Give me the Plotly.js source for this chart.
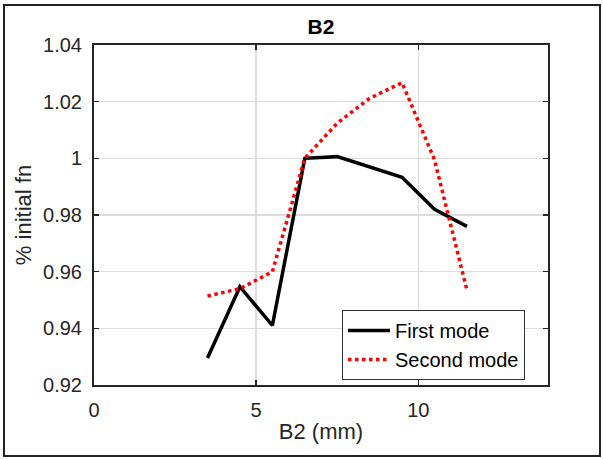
<!DOCTYPE html>
<html>
<head>
<meta charset="utf-8">
<script src="https://cdn.plot.ly/plotly-3.0.1.min.js"></script>
<style>
html,body{margin:0;padding:0;background:#fff;}
#wrap{position:relative;width:603px;height:459px;}
#chart{position:absolute;left:0;top:0;width:603px;height:459px;}
#frame{position:absolute;left:3px;top:4px;width:594px;height:449px;border:2px solid #222;pointer-events:none;}
</style>
</head>
<body>
<div id="wrap"><div id="chart"></div><div id="frame"></div></div>
<script>
const xFirst = [3.5, 4.5, 5.5, 6.5, 7.5, 8.5, 9.5, 10.5, 11.5];
const yFirst = [0.9295, 0.9547, 0.9410, 1.0000, 1.0006, 0.9970, 0.9933, 0.9820, 0.9760];
const xSecond = [3.5, 4.5, 5.5, 6.5, 7.5, 8.5, 9.5, 10.5, 11.5];
const ySecond = [0.9514, 0.9540, 0.9600, 1.0000, 1.0124, 1.0212, 1.0267, 0.9995, 0.9535];
const yTickVals = [0.92, 0.94, 0.96, 0.98, 1.00, 1.02, 1.04];
const yTickText = ['0.92', '0.94', '0.96', '0.98', '1', '1.02', '1.04'];
const xTickVals = [0, 5, 10];

const fam = 'Liberation Sans, Arial, sans-serif';
const tickFont = {family: fam, size: 20, color: '#262626'};
const labelFont = {family: fam, size: 22, color: '#262626'};

const traces = [
  {x: xFirst, y: yFirst, name: 'First mode', mode: 'lines', type: 'scatter',
   line: {color: '#000000', width: 3.5}},
  {x: xSecond, y: ySecond, name: 'Second mode', mode: 'lines', type: 'scatter',
   line: {color: '#ff0000', width: 3.5, dash: 'dot'}}
];

const axCommon = {
  showline: true, linecolor: '#262626', linewidth: 2, mirror: 'ticks',
  ticks: 'inside', ticklen: 5, tickwidth: 1.5, tickcolor: '#262626',
  showgrid: true, gridcolor: '#dcdcdc', gridwidth: 1.5, zeroline: false,
  tickfont: tickFont
};

const layout = {
  width: 603, height: 459,
  margin: {l: 94, r: 55, t: 45, b: 74},
  paper_bgcolor: '#ffffff', plot_bgcolor: '#ffffff',
  font: tickFont,
  title: {text: '<b>B2</b>', font: {family: fam, size: 21, color: '#000'},
          x: 0.5, xref: 'paper', y: 1 - 27/459, yref: 'container', yanchor: 'middle'},
  xaxis: Object.assign({}, axCommon, {range: [0, 14], tickvals: xTickVals, ticklabelstandoff: 6,
    title: {text: 'B2 (mm)', font: labelFont, standoff: 4}}),
  yaxis: Object.assign({}, axCommon, {range: [0.92, 1.04], tickvals: yTickVals, ticktext: yTickText,
    ticklabelstandoff: 6,
    title: {text: '% initial fn', font: labelFont, standoff: 5}}),
  showlegend: true,
  legend: {x: (342-94)/454, y: (385-310)/340, xanchor: 'left', yanchor: 'top',
    bgcolor: '#ffffff', bordercolor: '#333', borderwidth: 1,
    font: {family: fam, size: 20, color: '#000'},
    itemwidth: 42, tracegroupgap: 0}
};

Plotly.newPlot('chart', traces, layout, {displayModeBar: false, staticPlot: true});
</script>
</body>
</html>
